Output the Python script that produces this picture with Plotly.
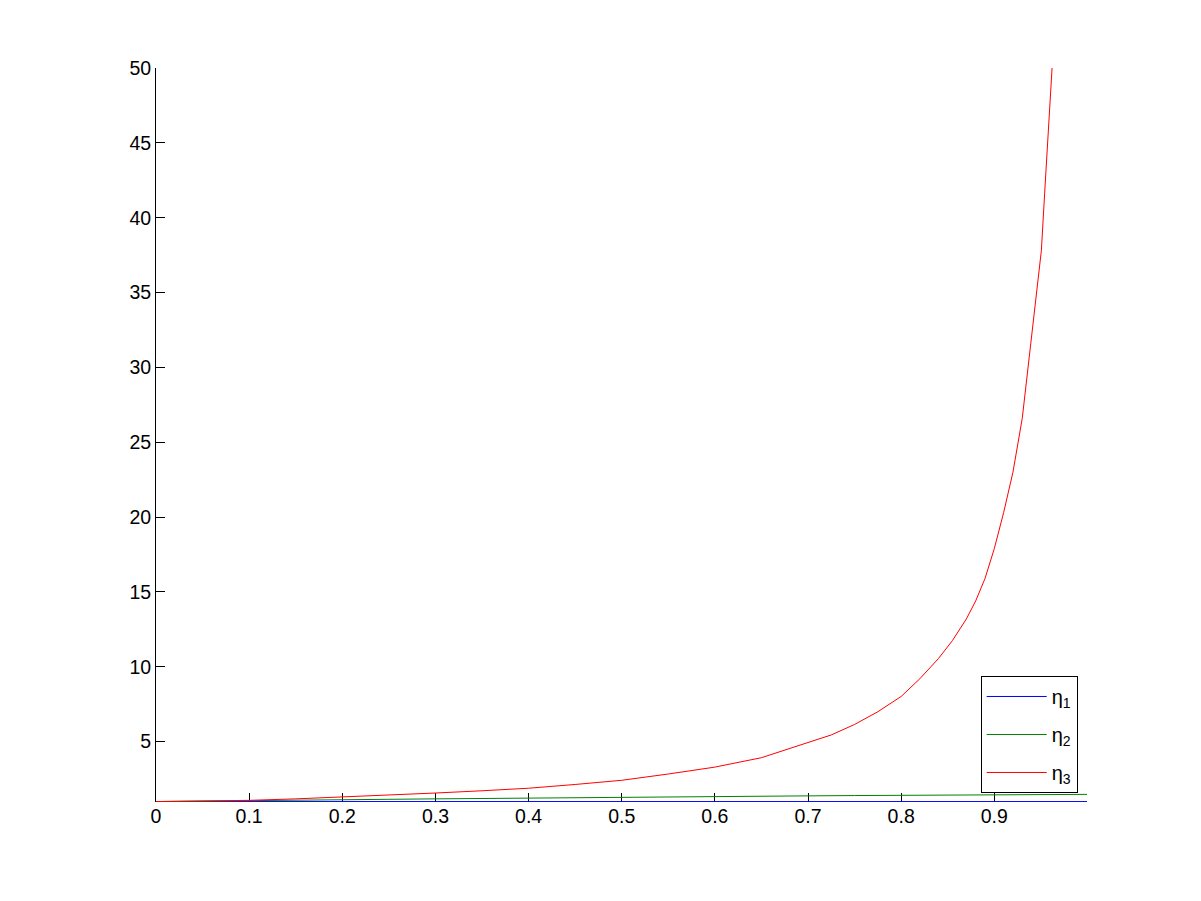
import plotly.graph_objects as go

# ---- data ----
x_blue = [0.0, 0.25, 0.5, 0.75, 1.0]
eta1 = [1.0, 1.0, 1.0, 1.0, 1.0]

x_green = [0.0, 0.05, 0.1, 0.15, 0.2, 0.25, 0.3, 0.35, 0.4, 0.45, 0.5,
           0.55, 0.6, 0.65, 0.7, 0.75, 0.8, 0.85, 0.9, 0.95, 1.0]
eta2 = [1.0, 1.02, 1.05, 1.08, 1.12, 1.15, 1.18, 1.21, 1.24, 1.27, 1.29,
        1.32, 1.34, 1.36, 1.38, 1.40, 1.42, 1.44, 1.45, 1.47, 1.48]

x_red = [0.0, 0.05, 0.1, 0.15, 0.2, 0.25, 0.3, 0.35, 0.4, 0.45, 0.5,
         0.55, 0.6, 0.65, 0.7, 0.725, 0.75, 0.775, 0.8, 0.82, 0.84, 0.855,
         0.87, 0.88, 0.89, 0.9, 0.91, 0.92, 0.93, 0.936, 0.942, 0.946,
         0.9505, 0.954, 0.958, 0.962]
eta3 = [1.0, 1.03, 1.08, 1.18, 1.3, 1.43, 1.57, 1.72, 1.89, 2.14, 2.42,
        2.84, 3.3, 3.93, 4.91, 5.45, 6.15, 7.0, 8.02, 9.2, 10.55, 11.75,
        13.2, 14.4, 15.9, 17.9, 20.3, 23.0, 26.6, 29.8, 33.2, 35.2,
        37.8, 41.6, 45.6, 50.0]

series_names = ["η<sub>1</sub>", "η<sub>2</sub>", "η<sub>3</sub>"]
series_colors = ["#0000ff", "#008000", "#ff0000"]

x_ticks = [0, 0.1, 0.2, 0.3, 0.4, 0.5, 0.6, 0.7, 0.8, 0.9]
x_ticklabels = ["0", "0.1", "0.2", "0.3", "0.4", "0.5", "0.6", "0.7", "0.8", "0.9"]
y_ticks = [5, 10, 15, 20, 25, 30, 35, 40, 45, 50]

FONT = "Liberation Sans, Arial, sans-serif"

fig = go.Figure()
for xs, ys, name, col in zip([x_blue, x_green, x_red], [eta1, eta2, eta3],
                             series_names, series_colors):
    fig.add_trace(go.Scatter(x=xs, y=ys, mode="lines", name=name,
                             legendgroup=name,
                             line=dict(color=col, width=1)))

fig.update_layout(
    width=1185, height=885,
    margin=dict(l=148, r=106, t=60, b=91, autoexpand=False),
    paper_bgcolor="white", plot_bgcolor="white",
    font=dict(family=FONT, size=19, color="black"),
    showlegend=True,
    legend=dict(
        x=0.990, y=0.0123, xanchor="right", yanchor="bottom",
        bgcolor="white", bordercolor="black", borderwidth=1,
        font=dict(family=FONT, size=20, color="black"),
        traceorder="grouped", tracegroupgap=9,
        itemwidth=60,
    ),
    xaxis=dict(
        range=[0, 0.9995], tickvals=x_ticks, ticktext=x_ticklabels,
        showgrid=False, zeroline=False, showline=False,
        ticks="inside", ticklen=9, tickcolor="black",
        tickfont=dict(family=FONT, size=19.5), mirror=False,
        layer="below traces",
    ),
    yaxis=dict(
        range=[0.97, 50], tickvals=y_ticks,
        showgrid=False, zeroline=False, showline=True, linecolor="black",
        linewidth=1, ticks="inside", ticklen=9, tickcolor="black",
        tickfont=dict(family=FONT, size=19.5), mirror=False,
        layer="below traces",
    ),
)

fig.write_html("out.html")
